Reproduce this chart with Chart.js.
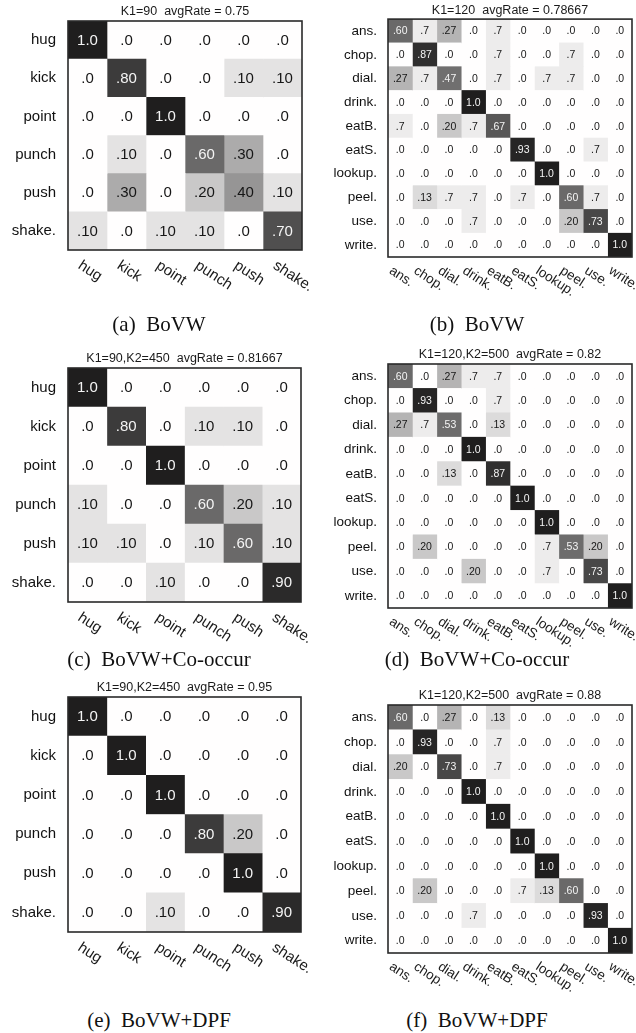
<!DOCTYPE html>
<html><head><meta charset="utf-8">
<script src="https://cdn.jsdelivr.net/npm/chart.js@4.4.1/dist/chart.umd.min.js"></script>
<style>
body{margin:0;background:#fff;width:636px;height:1033px;position:relative;overflow:hidden}
canvas{position:absolute}
.cap{position:absolute;width:318px;font-family:"Liberation Serif","Times New Roman",serif;font-size:21px;line-height:24px;color:#111;text-align:center;white-space:pre}
</style></head><body>
<script>
// ---------- data ----------
const kthLabels = ['hug','kick','point','punch','push','shake.'];
const kitLabels = ['ans.','chop.','dial.','drink.','eatB.','eatS.','lookup.','peel.','use.','write.'];

const titles = [
  'K1=90  avgRate = 0.75',
  'K1=120  avgRate = 0.78667',
  'K1=90,K2=450  avgRate = 0.81667',
  'K1=120,K2=500  avgRate = 0.82',
  'K1=90,K2=450  avgRate = 0.95',
  'K1=120,K2=500  avgRate = 0.88'
];
const captions = ['(a)  BoVW','(b)  BoVW','(c)  BoVW+Co-occur','(d)  BoVW+Co-occur','(e)  BoVW+DPF','(f)  BoVW+DPF'];

const matA = [
  [1.0,0,0,0,0,0],
  [0,0.80,0,0,0.10,0.10],
  [0,0,1.0,0,0,0],
  [0,0.10,0,0.60,0.30,0],
  [0,0.30,0,0.20,0.40,0.10],
  [0.10,0,0.10,0.10,0,0.70]
];
const matC = [
  [1.0,0,0,0,0,0],
  [0,0.80,0,0.10,0.10,0],
  [0,0,1.0,0,0,0],
  [0.10,0,0,0.60,0.20,0.10],
  [0.10,0.10,0,0.10,0.60,0.10],
  [0,0,0.10,0,0,0.90]
];
const matE = [
  [1.0,0,0,0,0,0],
  [0,1.0,0,0,0,0],
  [0,0,1.0,0,0,0],
  [0,0,0,0.80,0.20,0],
  [0,0,0,0,1.0,0],
  [0,0,0.10,0,0,0.90]
];
const matB = [
  [0.60,0.07,0.27,0,0.07,0,0,0,0,0],
  [0,0.87,0,0,0.07,0,0,0.07,0,0],
  [0.27,0.07,0.47,0,0.07,0,0.07,0.07,0,0],
  [0,0,0,1.0,0,0,0,0,0,0],
  [0.07,0,0.20,0.07,0.67,0,0,0,0,0],
  [0,0,0,0,0,0.93,0,0,0.07,0],
  [0,0,0,0,0,0,1.0,0,0,0],
  [0,0.13,0.07,0.07,0,0.07,0,0.60,0.07,0],
  [0,0,0,0.07,0,0,0,0.20,0.73,0],
  [0,0,0,0,0,0,0,0,0,1.0]
];
const matD = [
  [0.60,0,0.27,0.07,0.07,0,0,0,0,0],
  [0,0.93,0,0,0.07,0,0,0,0,0],
  [0.27,0.07,0.53,0,0.13,0,0,0,0,0],
  [0,0,0,1.0,0,0,0,0,0,0],
  [0,0,0.13,0,0.87,0,0,0,0,0],
  [0,0,0,0,0,1.0,0,0,0,0],
  [0,0,0,0,0,0,1.0,0,0,0],
  [0,0.20,0,0,0,0,0.07,0.53,0.20,0],
  [0,0,0,0.20,0,0,0.07,0,0.73,0],
  [0,0,0,0,0,0,0,0,0,1.0]
];
const matF = [
  [0.60,0,0.27,0,0.13,0,0,0,0,0],
  [0,0.93,0,0,0.07,0,0,0,0,0],
  [0.20,0,0.73,0,0.07,0,0,0,0,0],
  [0,0,0,1.0,0,0,0,0,0,0],
  [0,0,0,0,1.0,0,0,0,0,0],
  [0,0,0,0,0,1.0,0,0,0,0],
  [0,0,0,0,0,0,1.0,0,0,0],
  [0,0.20,0,0,0,0.07,0.13,0.60,0,0],
  [0,0,0,0.07,0,0,0,0,0.93,0],
  [0,0,0,0,0,0,0,0,0,1.0]
];

// ---------- styling ----------
const SANS = '"Liberation Sans", Arial, sans-serif';
const shadeStops = [[0,255],[0.07,237],[0.1,228],[0.13,220],[0.2,201],[0.3,172],[0.4,150],[0.47,112],[0.6,106],[0.67,88],[0.73,72],[0.8,60],[0.87,48],[0.93,38],[1,31]];
function shade(v){
  for(let i=1;i<shadeStops.length;i++){
    const [a,ga]=shadeStops[i-1],[b,gb]=shadeStops[i];
    if(v<=b){const g=Math.round(ga+(gb-ga)*(v-a)/(b-a));return `rgb(${g},${g-1},${g-1})`;}
  }
  return 'rgb(31,30,30)';
}
function fmt(v){
  if(v>=0.995) return '1.0';
  const p=Math.round(v*100);
  if(p===0) return '.0';
  return '.'+String(p).replace(/^0/,'');
}

const smallF = {row:15, val:15, xl:15, pad:12, xdx:-4, xdy:8};
const bigF   = {row:13.5, val:10.5, xl:13.5, pad:11, xdx:-6, xdy:7};

const panels = [
  {rect:{x:0,y:0,w:318,h:300},   box:{l:68,t:18,r:302,b:250},  rows:kthLabels, mat:matA, f:smallF},
  {rect:{x:318,y:0,w:318,h:300}, box:{l:388,t:13,r:632,b:257}, rows:kitLabels, mat:matB, f:bigF},
  {rect:{x:0,y:335,w:318,h:312}, box:{l:68,t:368,r:301,b:602}, rows:kthLabels, mat:matC, f:smallF},
  {rect:{x:318,y:335,w:318,h:312},box:{l:388,t:364,r:632,b:608},rows:kitLabels, mat:matD, f:bigF},
  {rect:{x:0,y:670,w:318,h:330}, box:{l:68,t:697,r:301,b:932}, rows:kthLabels, mat:matE, f:smallF},
  {rect:{x:318,y:670,w:318,h:330},box:{l:388,t:705,r:632,b:953},rows:kitLabels, mat:matF, f:bigF}
];
const capY = [324,324,659,659,1020,1020];

function heat(p, title){
  const {rect, box, rows, mat, f} = p;
  const cols = rows;
  const n = cols.length;
  const cv = document.createElement('canvas');
  cv.width = rect.w; cv.height = rect.h;
  cv.style.left = rect.x+'px'; cv.style.top = rect.y+'px';
  cv.style.width = rect.w+'px'; cv.style.height = rect.h+'px';
  document.body.appendChild(cv);

  const datasets = cols.map((c, ci) => ({
    label: c,
    data: rows.map(() => [ci, ci+1]),
    values: mat.map(r => r[ci]),
    backgroundColor: mat.map(r => shade(r[ci])),
    borderWidth: 0, barPercentage: 1, categoryPercentage: 1, grouped: false
  }));

  const overlay = {
    id: 'overlay',
    afterDatasetsDraw(chart){
      const ctx = chart.ctx;
      ctx.save();
      ctx.font = `${f.val}px ${SANS}`;
      ctx.textAlign = 'center'; ctx.textBaseline = 'middle';
      chart.data.datasets.forEach((ds, di) => {
        chart.getDatasetMeta(di).data.forEach((bar, ri) => {
          const v = ds.values[ri];
          ctx.fillStyle = v >= 0.45 ? '#f4f4f4' : '#161616';
          ctx.fillText(fmt(v), (bar.x + bar.base)/2, bar.y + 0.5);
        });
      });
      ctx.restore();
    },
    afterDraw(chart){
      const ctx = chart.ctx, a = chart.chartArea, xs = chart.scales.x;
      ctx.save();
      ctx.strokeStyle = '#2a2a2a'; ctx.lineWidth = 1.6;
      ctx.strokeRect(a.left, a.top, a.right - a.left, a.bottom - a.top);
      ctx.fillStyle = '#1a1a1a';
      ctx.font = `12.5px ${SANS}`;
      ctx.textAlign = 'center'; ctx.textBaseline = 'middle';
      ctx.fillText(title, (a.left + a.right)/2, a.top - 9);
      ctx.font = `${f.xl}px ${SANS}`;
      ctx.textAlign = 'left'; ctx.textBaseline = 'top';
      cols.forEach((c, ci) => {
        const px = xs.getPixelForValue(ci + 0.5);
        ctx.save();
        ctx.translate(px + f.xdx, a.bottom + f.xdy);
        ctx.rotate(33 * Math.PI / 180);
        ctx.fillText(c, 0, 0);
        ctx.restore();
      });
      ctx.restore();
    }
  };

  new Chart(cv, {
    type: 'bar',
    data: {labels: rows, datasets},
    options: {
      indexAxis: 'y', responsive: false, animation: false, events: [],
      devicePixelRatio: 1,
      layout: {padding: {left: 0, top: box.t - rect.y, right: rect.x + rect.w - box.r, bottom: rect.y + rect.h - box.b}},
      scales: {
        x: {type: 'linear', min: 0, max: n, display: false},
        y: {type: 'category', offset: true,
            grid: {display: false, drawTicks: false}, border: {display: false},
            ticks: {font: {family: SANS, size: f.row}, color: '#111', padding: f.pad, autoSkip: false},
            afterFit: s => { s.width = box.l - rect.x; }}
      },
      plugins: {legend: {display: false}, tooltip: {enabled: false}, title: {display: false}}
    },
    plugins: [overlay]
  });
}

panels.forEach((p, i) => heat(p, titles[i]));
captions.forEach((c, i) => {
  const d = document.createElement('div');
  d.className = 'cap';
  d.textContent = c;
  d.style.left = (i % 2 ? 318 : 0) + 'px';
  d.style.top = (capY[i] - 12) + 'px';
  document.body.appendChild(d);
});
</script>
</body></html>
